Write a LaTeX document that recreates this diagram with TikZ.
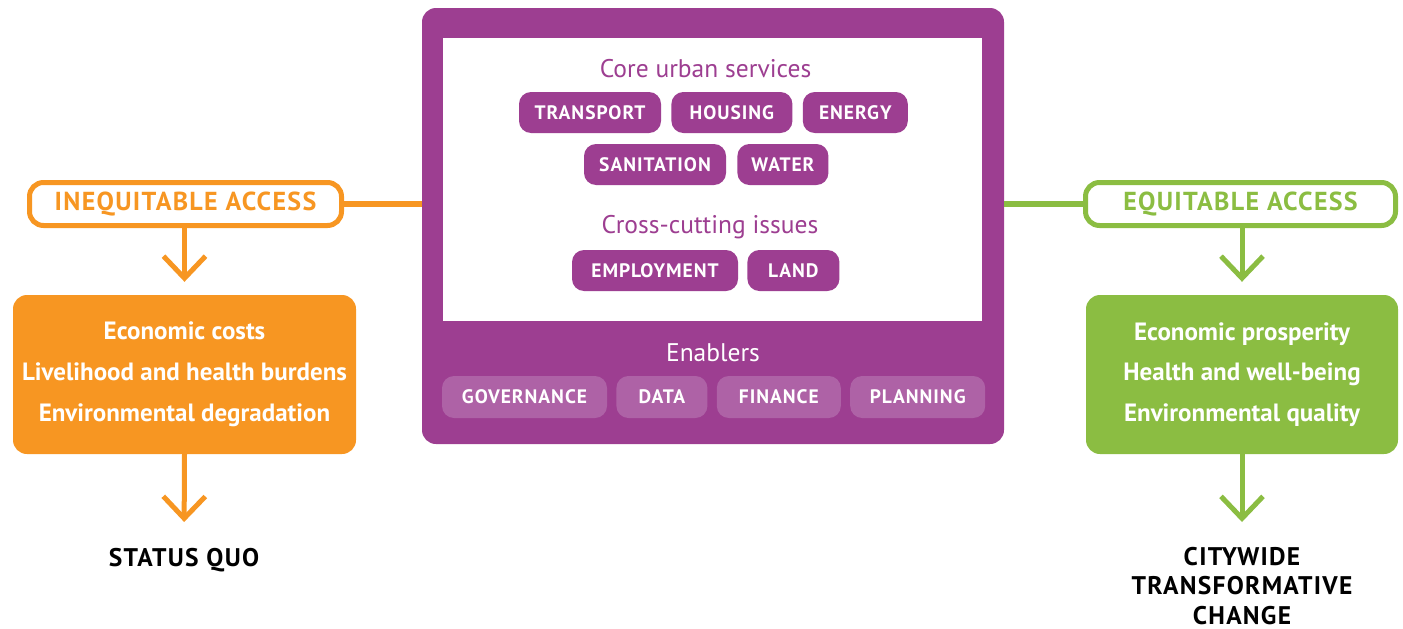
\documentclass[tikz,border=0pt]{standalone}
\usepackage{fontspec}
\setmainfont{PT Sans}
\newfontfamily\capsfont[LetterSpace=5]{PT Sans}
\usepackage{xcolor}
\usepackage{tikz}
\usetikzlibrary{arrows.meta,positioning,calc}
\definecolor{urbanpurple}{RGB}{157,62,145}
\definecolor{enablerpurple}{RGB}{174,98,166}
\definecolor{accessorange}{RGB}{247,150,34}
\definecolor{accessgreen}{RGB}{139,189,66}

\begin{document}
\begin{tikzpicture}[x=1pt,y=-1pt,
    pill/.style={fill=urbanpurple,text=white,rounded corners=12pt,minimum height=41pt,minimum width=#1,inner sep=0pt,font=\capsfont\bfseries\fontsize{19.5}{22}\selectfont},
    enabler/.style={pill=#1,fill=enablerpurple,minimum height=42pt},
    heading/.style={font=\fontsize{25.5}{28}\selectfont,anchor=base},
    access/.style={draw=#1,line width=5pt,rounded corners=14pt,fill=white,text=#1,minimum width=#1,minimum height=43pt,inner sep=0pt,font=\capsfont\bfseries\fontsize{26}{28}\selectfont},
    outcome/.style={fill=#1,text=white,rounded corners=14pt,minimum height=159pt,inner sep=0pt,align=center,font=\bfseries\fontsize{25}{40.8}\selectfont},
    result/.style={align=center,inner sep=0pt,anchor=north,font=\capsfont\bfseries\fontsize{25.5}{29.3}\selectfont},
    link/.style={draw=#1,line width=5.5pt},
    flow/.style={draw=#1,line width=5pt,-{Straight Barb[length=22pt,width=42pt]}}]
    \useasboundingbox (0,0) rectangle (1403,629);
    % the city frame and its white panel
    \node[fill=urbanpurple,rounded corners=14pt,minimum width=582pt,minimum height=436pt,inner sep=0pt] (core) at (713,226) {};
    \node[fill=white,minimum width=539pt,minimum height=283pt,inner sep=0pt] (panel) at (712.5,179.5) {};
    % core urban services
    \node[heading,text=urbanpurple] (services) at (705.5,77) {Core urban services};
    \node[pill=142pt] (transport) at (590,112.5) {TRANSPORT};
    \node[pill=121pt,right=10pt of transport] (housing) {HOUSING};
    \node[pill=105pt,right=10pt of housing] (energy) {ENERGY};
    \node[pill=142pt] (sanitation) at (655,164.5) {SANITATION};
    \node[pill=91pt,right=11pt of sanitation] (water) {WATER};
    % cross-cutting issues
    \node[heading,text=urbanpurple] (issues) at (710,233) {Cross-cutting issues};
    \node[pill=166pt] (employment) at (655,270.5) {EMPLOYMENT};
    \node[pill=92pt,right=9pt of employment] (land) {LAND};
    % enablers
    \node[heading,text=white] (enablers) at (713,361) {Enablers};
    \node[enabler=165pt] (governance) at (524.5,397) {GOVERNANCE};
    \node[enabler=91pt,right=9pt of governance] (data) {DATA};
    \node[enabler=124pt,right=9pt of data] (finance) {FINANCE};
    \node[enabler=135pt,right=9pt of finance] (planning) {PLANNING};
    % inequitable side
    \node[access=accessorange,minimum width=312pt] (ineq) at (185.5,204) {INEQUITABLE ACCESS};
    \node[outcome=accessorange,minimum width=343pt] (costs) at (184.5,374.5) {Economic costs\\Livelihood and health burdens\\Environmental degradation};
    \node[result] (quo) at (184,548) {STATUS QUO};
    \draw[link=accessorange] (ineq.east) -- (ineq.east -| core.west);
    \draw[flow=accessorange,shorten >=13pt] (ineq.south -| costs) -- (costs.north);
    \draw[flow=accessorange,shorten >=26pt] (costs.south) -- (quo.north);
    % equitable side
    \node[access=accessgreen,minimum width=310pt] (eq) at (1240.5,204) {EQUITABLE ACCESS};
    \node[outcome=accessgreen,minimum width=312pt] (prosperity) at (1242,374.5) {Economic prosperity\\Health and well-being\\Environmental quality};
    \node[result] (change) at (1242,547) {CITYWIDE\\TRANSFORMATIVE\\CHANGE};
    \draw[link=accessgreen] (eq.west) -- (eq.west -| core.east);
    \draw[flow=accessgreen,shorten >=13pt] (eq.south -| prosperity) -- (prosperity.north);
    \draw[flow=accessgreen,shorten >=25pt] (prosperity.south) -- (change.north);
\end{tikzpicture}
\end{document}
